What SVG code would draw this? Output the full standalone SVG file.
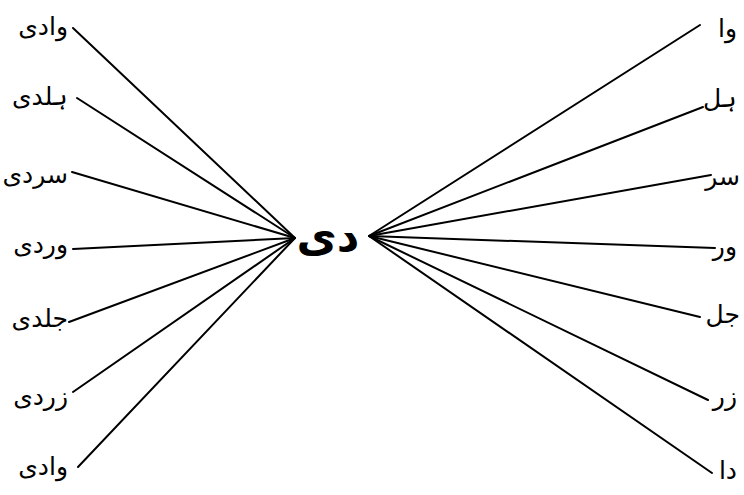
<svg xmlns="http://www.w3.org/2000/svg" width="744" height="495" viewBox="0 0 744 495">
<style>
.lbl{font-family:"DejaVu Sans",sans-serif;font-size:25px;fill:#000;text-anchor:end}
.ctr{font-family:"DejaVu Sans",sans-serif;font-size:44px;font-weight:bold;fill:#000;text-anchor:middle}
.c line{stroke:#000;stroke-width:2;stroke-linecap:round}
</style>
<rect width="744" height="495" fill="#fff"/>
<g id="connectors" class="c">
<line x1="73" y1="28" x2="295" y2="238"/>
<line x1="77" y1="98" x2="295" y2="238"/>
<line x1="72" y1="172" x2="295" y2="238"/>
<line x1="73" y1="249" x2="295" y2="238"/>
<line x1="69" y1="322" x2="295" y2="238"/>
<line x1="73" y1="392" x2="295" y2="238"/>
<line x1="78" y1="467" x2="295" y2="238"/>
<line x1="700" y1="25" x2="369" y2="236"/>
<line x1="703" y1="107" x2="369" y2="236"/>
<line x1="711" y1="175" x2="369" y2="236"/>
<line x1="715" y1="248" x2="369" y2="236"/>
<line x1="700" y1="317" x2="369" y2="236"/>
<line x1="708" y1="400" x2="369" y2="236"/>
<line x1="712" y1="473" x2="369" y2="236"/>
</g>
<g id="center"><text class="ctr" x="328" y="251">دی</text></g>
<g id="l1"><text class="lbl" x="68" y="35">وادی</text></g>
<g id="l2"><text class="lbl" x="68" y="105">ہلدی</text></g>
<g id="l3"><text class="lbl" x="68" y="183">سردی</text></g>
<g id="l4"><text class="lbl" x="68" y="253">وردی</text></g>
<g id="l5"><text class="lbl" x="68" y="327">جلدی</text></g>
<g id="l6"><text class="lbl" x="68" y="405">زردی</text></g>
<g id="l7"><text class="lbl" x="68" y="475">وادی</text></g>
<g id="r1"><text class="lbl" x="737" y="37">وا</text></g>
<g id="r2"><text class="lbl" x="737" y="107">ہل</text></g>
<g id="r3"><text class="lbl" x="740" y="185">سر</text></g>
<g id="r4"><text class="lbl" x="737" y="255">ور</text></g>
<g id="r5"><text class="lbl" x="740" y="323">جل</text></g>
<g id="r6"><text class="lbl" x="737" y="405">زر</text></g>
<g id="r7"><text class="lbl" x="737" y="479">دا</text></g>
</svg>
